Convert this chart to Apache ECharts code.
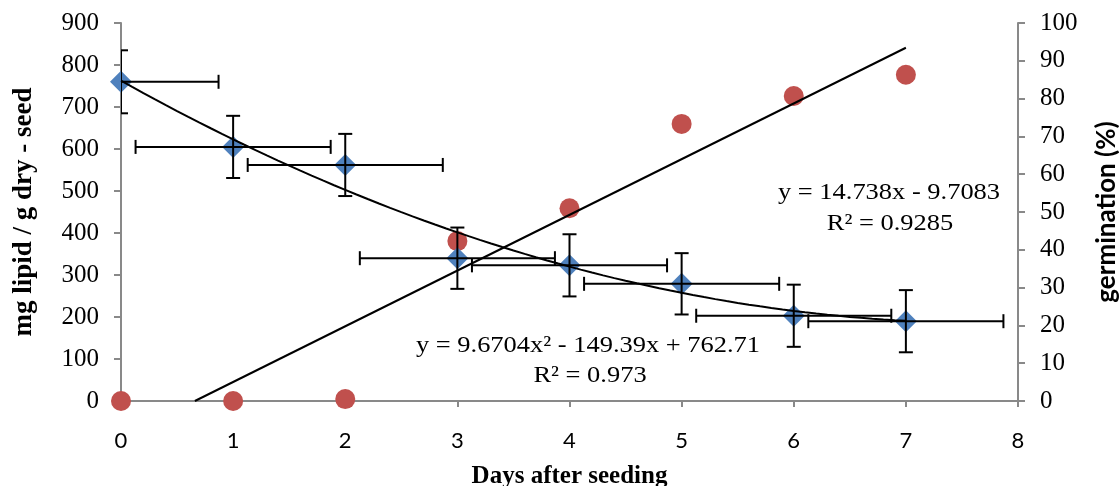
<!DOCTYPE html>
<html>
<head>
<meta charset="utf-8">
<script src="https://cdn.jsdelivr.net/npm/echarts@6/dist/echarts.min.js"></script>
<style>
  html, body { margin: 0; padding: 0; background: #fff; }
  #main { width: 1119px; height: 486px; }
</style>
</head>
<body>
<div id="main"></div>
<script>
// data
var days = [0, 1, 2, 3, 4, 5, 6, 7];
var lipid = [760, 605, 562, 340, 323, 279, 203, 190];
var lipidErrY = [75, 74, 74, 73, 74, 73, 74, 74];
var lipidErrX = [0.87, 0.87, 0.87, 0.87, 0.87, 0.87, 0.87, 0.87];
var germination = [0, 0, 0.5, 42.3, 51, 73.3, 80.7, 86.3];

// trendline coefficients as printed on the chart
var polyCoef = [762.71, -149.39, 9.6704];
var linCoef = [-9.7083, 14.738];

var serif = '"Liberation Serif", "Times New Roman", serif';
var sans = 'Lato, "Open Sans", sans-serif';

var lipidPts = days.map(function (d, i) { return [d, lipid[i]]; });
var germPts = days.map(function (d, i) { return [d, germination[i]]; });
var errPts = days.map(function (d, i) { return [d, lipid[i], lipidErrX[i], lipidErrY[i]]; });

var polyLine = [];
for (var t = 0; t <= 70; t++) {
    var x = t / 10;
    polyLine.push([x, polyCoef[0] + polyCoef[1] * x + polyCoef[2] * x * x]);
}
var x0 = -linCoef[0] / linCoef[1];
var linLine = [[x0, 0], [7, linCoef[0] + linCoef[1] * 7]];

var myChart = echarts.init(document.getElementById('main'));

function eqText(str, cx, cy) {
    return {
        type: 'text', x: cx, y: cy, scaleX: 1.15, z: 10,
        style: { text: str, align: 'center', verticalAlign: 'middle', fill: '#000',
                 font: '23px ' + serif }
    };
}

var option = {
    animation: false,
    grid: { left: 121, right: 101, top: 23, bottom: 85, containLabel: false, outerBoundsMode: 'none' },
    xAxis: {
        type: 'value', min: 0, max: 8, interval: 1,
        splitLine: { show: false },
        axisLine: { lineStyle: { color: '#898989', width: 2 } },
        axisTick: { length: 6, lineStyle: { color: '#898989', width: 2 } },
        axisLabel: { color: '#000', fontFamily: sans, fontSize: 22, margin: 29 },
        name: 'Days after seeding', nameLocation: 'middle', nameGap: 63,
        nameTextStyle: { color: '#000', fontFamily: serif, fontWeight: 'bold', fontSize: 25 }
    },
    yAxis: [{
        type: 'value', min: 0, max: 900, interval: 100,
        splitLine: { show: false },
        axisLine: { show: true, lineStyle: { color: '#898989', width: 2 } },
        axisTick: { show: true, length: 7, lineStyle: { color: '#898989', width: 2 } },
        axisLabel: { color: '#000', fontFamily: serif, fontSize: 25, margin: 22 },
        name: 'mg lipid / g dry - seed', nameLocation: 'middle', nameGap: 83,
        nameTextStyle: { color: '#000', fontFamily: serif, fontWeight: 'bold', fontSize: 27 }
    }, {
        type: 'value', min: 0, max: 100, interval: 10,
        splitLine: { show: false },
        axisLine: { show: true, lineStyle: { color: '#898989', width: 2 } },
        axisTick: { show: true, length: 7, lineStyle: { color: '#898989', width: 2 } },
        axisLabel: { color: '#000', fontFamily: serif, fontSize: 25, margin: 22 },
        name: 'germination (%)', nameLocation: 'middle', nameGap: 76, nameRotate: 90,
        nameTextStyle: { color: '#000', fontFamily: sans, fontWeight: 'bold', fontSize: 26 }
    }],
    series: [{
        type: 'scatter', data: germPts, yAxisIndex: 1,
        symbol: 'circle', symbolSize: 20,
        itemStyle: { color: '#C0504D', opacity: 1 }
    }, {
        type: 'scatter', data: lipidPts,
        symbol: 'diamond', symbolSize: [22, 22],
        itemStyle: { color: '#4F81BD', opacity: 1 }
    }, {
        type: 'custom', data: errPts, clip: true, z: 5,
        renderItem: function (params, api) {
            var x = api.value(0), y = api.value(1), ex = api.value(2), ey = api.value(3);
            var c = api.coord([x, y]);
            var l = api.coord([x - ex, y]), r = api.coord([x + ex, y]);
            var tp = api.coord([x, y + ey]), bt = api.coord([x, y - ey]);
            var cap = 7;
            var st = { stroke: '#000', lineWidth: 2 };
            var seg = function (a, b, c2, d) {
                return { type: 'line', shape: { x1: a, y1: b, x2: c2, y2: d }, style: st };
            };
            return {
                type: 'group',
                children: [
                    seg(c[0], tp[1], c[0], bt[1]),
                    seg(c[0] - cap, tp[1], c[0] + cap, tp[1]),
                    seg(c[0] - cap, bt[1], c[0] + cap, bt[1]),
                    seg(l[0], c[1], r[0], c[1]),
                    seg(l[0], c[1] - cap, l[0], c[1] + cap),
                    seg(r[0], c[1] - cap, r[0], c[1] + cap)
                ]
            };
        }
    }, {
        type: 'line', data: polyLine, showSymbol: false, z: 6,
        lineStyle: { color: '#000', width: 2 }
    }, {
        type: 'line', data: linLine, yAxisIndex: 1, showSymbol: false, z: 6,
        lineStyle: { color: '#000', width: 2 }
    }],
    graphic: [
        eqText('y = 14.738x - 9.7083', 889, 193),
        eqText('R² = 0.9285', 890, 224),
        eqText('y = 9.6704x² - 149.39x + 762.71', 588, 346),
        eqText('R² = 0.973', 590, 376)
    ]
};

myChart.setOption(option);
</script>
</body>
</html>
